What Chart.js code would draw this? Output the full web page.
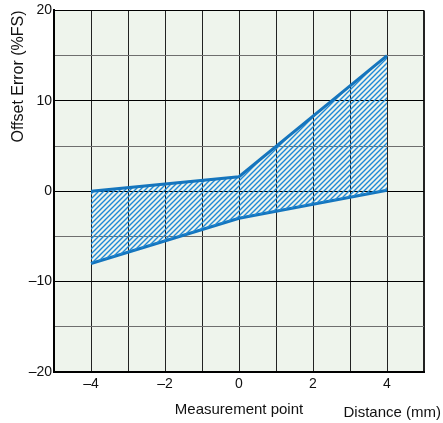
<!DOCTYPE html>
<html>
<head>
<meta charset="utf-8">
<script src="https://cdn.jsdelivr.net/npm/chart.js@4/dist/chart.umd.min.js"></script>
<style>
  html, body { margin: 0; padding: 0; background: #ffffff; }
  #wrap { width: 443px; height: 423px; }
</style>
</head>
<body>
<div id="wrap"><canvas id="c" width="443" height="423"></canvas></div>
<script>
// Data
const distances = [-4, 0, 4];          // mm
const upperError = [0, 1.6, 15];       // %FS
const lowerError = [-8, -3, 0.1];      // %FS
const xTickLabels = [-4, -2, 0, 2, 4];
const yTickLabels = [-20, -10, 0, 10, 20];

const LINE_BLUE = '#1575bd';

function hatchPattern() {
  const s = 5;
  const c = document.createElement('canvas');
  c.width = s; c.height = s;
  const g = c.getContext('2d');
  g.clearRect(0, 0, s, s);
  g.strokeStyle = 'rgb(30,136,214)';
  g.lineWidth = 1.4;
  g.lineCap = 'square';
  g.beginPath();
  g.moveTo(-2, s + 2); g.lineTo(s + 2, -2);
  g.moveTo(-2, 2); g.lineTo(2, -2);
  g.moveTo(s - 2, s + 2); g.lineTo(s + 2, s - 2);
  g.stroke();
  const tmp = document.createElement('canvas').getContext('2d');
  return tmp.createPattern(c, 'repeat');
}

const fmt = v => (v < 0 ? '\u2013' + Math.abs(v) : String(v));

const areaBg = {
  id: 'areaBg',
  beforeDraw(chart) {
    const {ctx, chartArea: a} = chart;
    ctx.save();
    ctx.fillStyle = '#eef4ec';
    ctx.fillRect(a.left, a.top, a.right - a.left, a.bottom - a.top);
    ctx.restore();
  },
  afterDraw(chart) {
    const {ctx} = chart;
    ctx.save();
    ctx.fillStyle = '#111';
    ctx.font = '15px "Liberation Sans", Arial, sans-serif';
    ctx.textAlign = 'right';
    ctx.textBaseline = 'middle';
    ctx.fillText('Distance (mm)', 441, 413);
    ctx.restore();
  }
};

const toXY = ys => distances.map((x, i) => ({x, y: ys[i]}));

new Chart(document.getElementById('c'), {
  type: 'line',
  data: {
    datasets: [
      {
        data: toXY(upperError),
        borderColor: LINE_BLUE,
        borderWidth: 3,
        pointRadius: 0,
        tension: 0,
        fill: '+1',
        backgroundColor: hatchPattern()
      },
      {
        data: toXY(lowerError),
        borderColor: LINE_BLUE,
        borderWidth: 3,
        pointRadius: 0,
        tension: 0,
        fill: false
      }
    ]
  },
  options: {
    responsive: false,
    animation: false,
    events: [],
    layout: { padding: { top: 9, right: 19, left: 0, bottom: 0 } },
    plugins: { legend: { display: false }, tooltip: { enabled: false } },
    scales: {
      x: {
        type: 'linear',
        min: -5, max: 5,
        afterFit: s => { s.height = 51; },
        afterBuildTicks: s => { s.ticks = []; for (let v = -5; v <= 5; v++) s.ticks.push({value: v}); },
        ticks: {
          autoSkip: false,
          maxRotation: 0,
          padding: 4,
          color: '#111',
          font: { family: '"Liberation Sans", Arial, sans-serif', size: 14 },
          callback: v => xTickLabels.includes(v) ? fmt(v) : ''
        },
        grid: {
          drawTicks: false,
          color: ctx => '#222',
          lineWidth: ctx => (ctx.tick && ctx.tick.value === 5 ? 2 : 1)
        },
        border: { display: true, color: '#000', width: 2 },
        title: {
          display: true,
          text: 'Measurement point',
          color: '#111',
          font: { family: '"Liberation Sans", Arial, sans-serif', size: 15 },
          padding: { top: 0, bottom: 4 }
        }
      },
      y: {
        type: 'linear',
        min: -20, max: 20,
        afterFit: s => { s.width = 54; },
        afterBuildTicks: s => { s.ticks = []; for (let v = -20; v <= 20; v += 5) s.ticks.push({value: v}); },
        ticks: {
          autoSkip: false,
          padding: 2,
          color: '#111',
          font: { family: '"Liberation Sans", Arial, sans-serif', size: 14 },
          callback: v => yTickLabels.includes(v) ? fmt(v) : ''
        },
        grid: {
          drawTicks: false,
          color: ctx => (ctx.tick && ctx.tick.value % 10 === 0 ? '#000' : '#6e6e6e'),
          lineWidth: 1
        },
        border: { display: true, color: '#000', width: 2 },
        title: {
          display: true,
          text: 'Offset Error (%FS)',
          align: 'end',
          color: '#111',
          font: { family: '"Liberation Sans", Arial, sans-serif', size: 16 },
          padding: { top: 9, bottom: 0 }
        }
      }
    }
  },
  plugins: [areaBg]
});
</script>
</body>
</html>
